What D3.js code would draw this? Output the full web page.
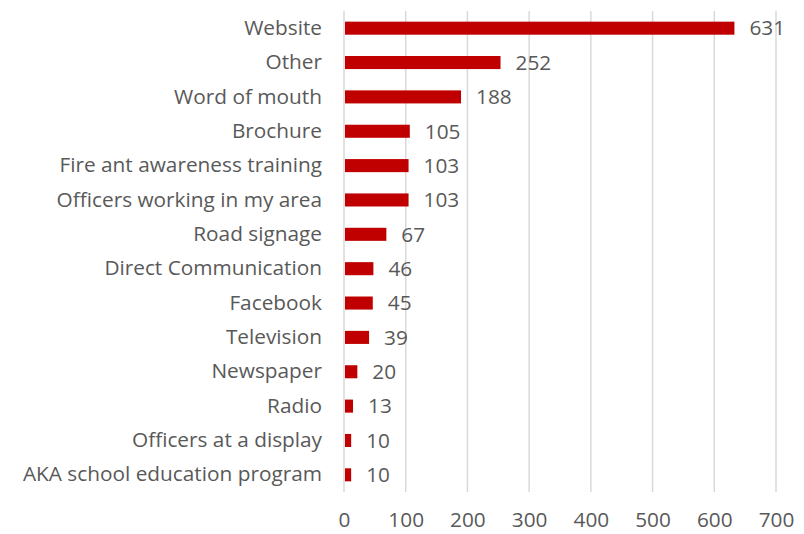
<!DOCTYPE html>
<html><head><meta charset="utf-8">
<script src="https://cdn.jsdelivr.net/npm/d3@7"></script>
<style>body{margin:0;background:#fff}svg{display:block}text{font-family:"Open Sans",sans-serif;fill:#595959}</style>
</head><body><svg id="c" width="804" height="534"></svg>
<script>
const categories = ["Website","Other","Word of mouth","Brochure","Fire ant awareness training","Officers working in my area","Road signage","Direct Communication","Facebook","Television","Newspaper","Radio","Officers at a display","AKA school education program"];
const values = [631,252,188,105,103,103,67,46,45,39,20,13,10,10];
const tickValues = [0,100,200,300,400,500,600,700];

const svg = d3.select("#c");
const m = {left:344, right:28, top:11, bottom:42};
const W = 804, H = 534;
const FS = 20.8;
const x = d3.scaleLinear().domain([0,700]).range([m.left, W - m.right]);
const y = d3.scaleBand().domain(categories).range([m.top, H - m.bottom]).paddingInner(0.62).paddingOuter(0.31);

// gridlines
svg.append("g").selectAll("line").data(tickValues).join("line")
  .attr("x1", d => x(d)).attr("x2", d => x(d))
  .attr("y1", m.top).attr("y2", H - m.bottom)
  .attr("stroke", "#d9d9d9").attr("stroke-width", 1.5);

// x axis
const xa = svg.append("g").attr("transform", `translate(0,${H - m.bottom})`)
  .call(d3.axisBottom(x).tickValues(tickValues).tickSize(0).tickPadding(20));
xa.select(".domain").remove();
xa.selectAll("text").attr("font-size", FS).style("font-family", '"Open Sans",sans-serif').attr("fill", "#595959");

// y axis
const ya = svg.append("g").attr("transform", `translate(${m.left},0)`)
  .call(d3.axisLeft(y).tickSize(0).tickPadding(22));
ya.select(".domain").remove();
ya.selectAll("text").attr("font-size", FS).style("font-family", '"Open Sans",sans-serif').attr("fill", "#595959");

// bars
svg.append("g").selectAll("rect").data(values).join("rect")
  .attr("x", x(0) + 1).attr("y", (d,i) => y(categories[i]))
  .attr("width", d => x(d) - x(0)).attr("height", y.bandwidth())
  .attr("fill", "#c00000");

// labels
svg.append("g").selectAll("text").data(values).join("text")
  .attr("x", d => x(d) + 16).attr("y", (d,i) => y(categories[i]) + y.bandwidth()/2)
  .attr("dy", "0.35em").attr("font-size", FS).text(d => d);
</script></body></html>
